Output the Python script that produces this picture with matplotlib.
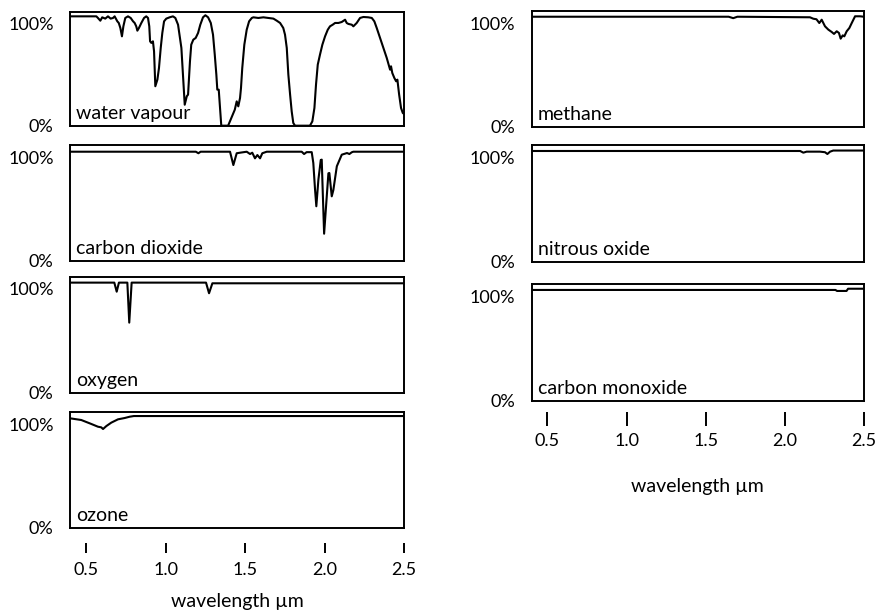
import matplotlib.pyplot as plt

plt.rcParams['font.family'] = ['Lato', 'DejaVu Sans']
plt.rcParams['font.size'] = 12.5

# wavelength (um) and transmission (fraction of 1)
water_x = [0.40, 0.564, 0.574, 0.589, 0.601, 0.620, 0.637, 0.654, 0.669, 0.679,
           0.696, 0.705, 0.715, 0.725, 0.734, 0.746, 0.763, 0.780, 0.795, 0.805,
           0.815, 0.822, 0.832, 0.847, 0.864, 0.878, 0.889, 0.897, 0.902, 0.910,
           0.920, 0.927, 0.935, 0.948, 0.958, 0.969, 0.979, 0.990, 1.004, 1.025,
           1.046, 1.061, 1.078, 1.099, 1.109, 1.120, 1.133, 1.141, 1.153, 1.161,
           1.174, 1.189, 1.204, 1.218, 1.235, 1.250, 1.267, 1.284, 1.298, 1.309,
           1.319, 1.325, 1.334, 1.342, 1.350, 1.393, 1.413, 1.435, 1.447, 1.457,
           1.468, 1.474, 1.482, 1.495, 1.510, 1.525, 1.542, 1.552, 1.583, 1.615,
           1.646, 1.678, 1.699, 1.720, 1.740, 1.751, 1.762, 1.772, 1.783, 1.793,
           1.803, 1.814, 1.908, 1.923, 1.936, 1.946, 1.957, 1.971, 1.986, 2.003,
           2.020, 2.034, 2.051, 2.066, 2.087, 2.108, 2.129, 2.139, 2.150, 2.171,
           2.181, 2.202, 2.223, 2.244, 2.275, 2.297, 2.313, 2.328, 2.349, 2.370,
           2.391, 2.406, 2.412, 2.418, 2.426, 2.439, 2.450, 2.458, 2.469, 2.481,
           2.492, 2.500]
water_y = [1.007, 1.007, 0.992, 0.967, 0.998, 0.986, 1.007, 0.986, 0.992, 1.007,
           0.961, 0.946, 0.900, 0.823, 0.915, 0.992, 1.007, 0.992, 0.961, 0.946,
           0.915, 0.875, 0.900, 0.946, 0.992, 1.007, 0.992, 0.915, 0.777, 0.762,
           0.777, 0.685, 0.363, 0.424, 0.531, 0.716, 0.854, 0.961, 0.986, 0.998,
           1.007, 0.992, 0.930, 0.716, 0.470, 0.193, 0.271, 0.286, 0.593, 0.746,
           0.792, 0.808, 0.854, 0.930, 0.998, 1.017, 0.998, 0.946, 0.838, 0.654,
           0.470, 0.332, 0.332, 0.163, 0.0, 0.0, 0.071, 0.147, 0.224, 0.178,
           0.255, 0.347, 0.531, 0.746, 0.884, 0.961, 0.992, 0.998, 0.992, 0.998,
           0.992, 0.986, 0.967, 0.946, 0.900, 0.838, 0.716, 0.470, 0.286, 0.132,
           0.025, 0.0, 0.0, 0.040, 0.163, 0.378, 0.562, 0.654, 0.746, 0.823,
           0.884, 0.915, 0.930, 0.946, 0.946, 0.955, 0.976, 0.946, 0.937, 0.930,
           0.915, 0.946, 0.992, 1.001, 0.998, 0.992, 0.961, 0.900, 0.808, 0.716,
           0.624, 0.547, 0.516, 0.547, 0.485, 0.439, 0.409, 0.424, 0.286, 0.163,
           0.117, 0.108]

co2_x = [0.40, 1.19, 1.206, 1.22, 1.405, 1.426, 1.447, 1.468, 1.510, 1.531,
         1.545, 1.562, 1.577, 1.594, 1.608, 1.636, 1.856, 1.871, 1.887, 1.919,
         1.929, 1.940, 1.948, 1.961, 1.976, 1.982, 1.988, 1.997, 2.009, 2.024,
         2.030, 2.045, 2.055, 2.077, 2.108, 2.141, 2.156, 2.171, 2.181, 2.50]
co2_y = [0.989, 0.989, 0.975, 0.989, 0.989, 0.868, 0.975, 0.980, 0.989, 0.968,
         0.980, 0.929, 0.959, 0.929, 0.975, 0.989, 0.989, 0.968, 0.985, 0.985,
         0.887, 0.644, 0.494, 0.735, 0.914, 0.917, 0.642, 0.245, 0.490, 0.793,
         0.796, 0.584, 0.640, 0.857, 0.962, 0.977, 0.968, 0.984, 0.989, 0.989]

o2_x = [0.40, 0.677, 0.692, 0.706, 0.759, 0.771, 0.786, 1.254, 1.273, 1.294, 2.50]
o2_y = [0.996, 0.996, 0.914, 0.996, 0.996, 0.634, 0.996, 0.996, 0.900, 0.990, 0.990]

o3_x = [0.40, 0.469, 0.532, 0.574, 0.595, 0.606, 0.627, 0.658, 0.700, 0.742,
        0.774, 0.80, 2.50]
o3_y = [0.995, 0.980, 0.944, 0.919, 0.913, 0.898, 0.925, 0.956, 0.986, 0.998,
        1.010, 1.016, 1.016]

ch4_x = [0.40, 1.645, 1.674, 1.70, 2.159, 2.180, 2.200, 2.218, 2.233, 2.254,
         2.275, 2.296, 2.311, 2.328, 2.342, 2.353, 2.366, 2.376, 2.391, 2.408,
         2.423, 2.444, 2.475, 2.50]
ch4_y = [0.998, 0.998, 0.985, 0.998, 0.993, 0.980, 0.975, 0.941, 0.971, 0.911,
         0.881, 0.860, 0.842, 0.866, 0.851, 0.799, 0.829, 0.820, 0.866, 0.896,
         0.941, 1.002, 1.002, 0.998]

n2o_x = [0.40, 2.097, 2.117, 2.138, 2.222, 2.254, 2.269, 2.286, 2.306, 2.50]
n2o_y = [0.996, 0.996, 0.981, 0.990, 0.990, 0.985, 0.969, 0.990, 1.000, 1.000]

co_x = [0.40, 2.32, 2.33, 2.39, 2.40, 2.50]
co_y = [0.999, 0.999, 0.990, 0.990, 1.010, 1.010]

wl_ticks = [0.5, 1.0, 1.5, 2.0, 2.5]
wl_labels = ['0.5', '1.0', '1.5', '2.0', '2.5']

# name, data, axes rect (left, bottom, width, height)
panels = [
    ('water vapour', water_x, water_y, [0.0796, 0.7943, 0.378, 0.1866]),
    ('carbon dioxide', co2_x, co2_y, [0.0796, 0.5733, 0.378, 0.1894]),
    ('oxygen', o2_x, o2_y, [0.0796, 0.3573, 0.378, 0.1899]),
    ('ozone', o3_x, o3_y, [0.0796, 0.1363, 0.378, 0.1889]),
    ('methane', ch4_x, ch4_y, [0.6021, 0.7926, 0.3763, 0.1894]),
    ('nitrous oxide', n2o_x, n2o_y, [0.6021, 0.5717, 0.3763, 0.1910]),
    ('carbon monoxide', co_x, co_y, [0.6021, 0.3442, 0.3763, 0.1905]),
]

fig = plt.figure(figsize=(8.83, 6.11), dpi=100)

axes = []
for name, xs, ys, rect in panels:
    ax = fig.add_axes(rect)
    ax.plot(xs, ys, color='black', linewidth=1.5)
    ax.set_xlim(0.4, 2.5)
    ax.set_ylim(0, 1.05)
    for s in ax.spines.values():
        s.set_linewidth(1.4)
    ax.set_xticks([])
    ax.set_yticks([0, 1])
    ax.set_yticklabels(['0%', '100%'])
    ax.tick_params(axis='y', length=0, pad=12, labelsize=13)
    labs = ax.get_yticklabels()
    labs[1].set_verticalalignment('top')
    ax.text(0.018, 0.03, name, transform=ax.transAxes, ha='left', va='bottom',
            fontsize=14)
    axes.append(ax)

# detached wavelength ticks under the bottom panel of each column
for ax, loc, tlen, tpad, lpad in [(axes[3], -0.13, 7, 7, 11), (axes[6], -0.095, 10, 5, 21)]:
    sec = ax.secondary_xaxis(loc)
    sec.spines['bottom'].set_visible(False)
    sec.set_xticks(wl_ticks)
    sec.set_xticklabels(wl_labels)
    sec.tick_params(axis='x', length=tlen, width=1.4, pad=tpad, labelsize=13)
    sec.set_xlabel('wavelength µm', fontsize=14, labelpad=lpad)

fig.savefig('out.png', dpi=100)
